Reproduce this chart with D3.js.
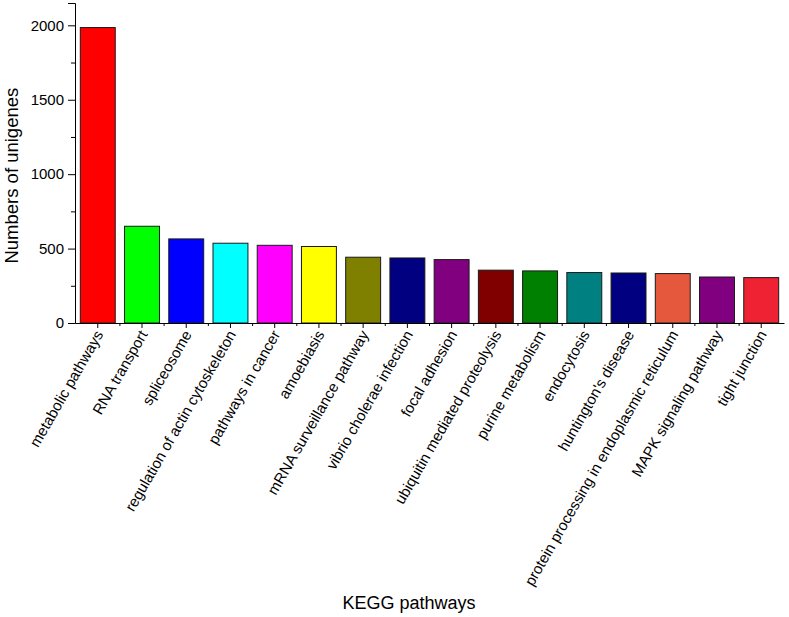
<!DOCTYPE html>
<html>
<head>
<meta charset="utf-8">
<script src="https://cdn.jsdelivr.net/npm/d3@7"></script>
<style>
  html, body { margin: 0; padding: 0; background: #fff; overflow: hidden; }
  svg { display: block; }
  text { font-family: "Liberation Sans", Arial, sans-serif; fill: #000; }
</style>
</head>
<body>
<div id="svg-container"></div>
<script>
const categories = [
  "metabolic pathways", "RNA transport", "spliceosome", "regulation of actin cytoskeleton",
  "pathways in cancer", "amoebiasis", "mRNA surveillance pathway", "vibrio cholerae infection",
  "focal adhesion", "ubiquitin mediated proteolysis", "purine metabolism", "endocytosis",
  "huntington's disease", "protein processing in endoplasmic reticulum",
  "MAPK signaling pathway", "tight junction"
]
const values = [1985, 650, 565, 536, 522, 514, 442, 437, 426, 355, 350, 339, 336, 332, 309, 305]
const colors = [
  "#ff0000", "#00ff00", "#0000ff", "#00ffff", "#ff00ff", "#ffff00", "#808000", "#000080",
  "#800080", "#800000", "#008000", "#008080", "#000080", "#e5583d", "#800080", "#ee2233"
]
const yTicks = [0, 500, 1000, 1500, 2000]
const yMinorTicks = [250, 750, 1250, 1750]

const width = 789
const height = 617
const margin = { top: 3, right: 5, bottom: 294, left: 75 }
const innerWidth = width - margin.left - margin.right
const innerHeight = height - margin.top - margin.bottom

const svg = d3.select('#svg-container')
  .append('svg').attr('width', width).attr('height', height)

const g = svg.append('g')
  .attr('transform', `translate(${margin.left}, ${margin.top})`)

//schalen
const yScale = d3.scaleLinear()
  .domain([0, 2150])
  .range([innerHeight, 0])
const xScale = d3.scaleBand()
  .domain(categories)
  .range([0, innerWidth])
  .paddingInner(0.21)
  .paddingOuter(0.12)

//balken
g.selectAll('rect')
  .data(values)
  .enter().append('rect')
  .attr('x', (d, i) => xScale(categories[i]))
  .attr('y', d => yScale(d))
  .attr('width', xScale.bandwidth())
  .attr('height', d => innerHeight - yScale(d))
  .attr('fill', (d, i) => colors[i])
  .attr('stroke', '#1a1a1a')
  .attr('stroke-width', 1)

//y as
const yAxisG = g.append('g')
  .call(d3.axisLeft(yScale).tickValues(yTicks).tickFormat(d3.format('d')).tickSize(7).tickPadding(4))
yAxisG.selectAll('text').style('font-size', '15px')
yAxisG.append('g')
  .call(d3.axisLeft(yScale).tickValues(yMinorTicks).tickSize(4).tickFormat(''))
  .select('.domain').remove()

//x as, labels los toegevoegd in een gedraaide groep
const xAxisG = g.append('g')
  .attr('transform', `translate(0, ${innerHeight})`)
  .call(d3.axisBottom(xScale).tickSize(5).tickSizeOuter(0).tickFormat(''))

xAxisG.selectAll('.label')
  .data(categories)
  .enter().append('g')
  .attr('class', 'label')
  .attr('transform', d => `translate(${xScale(d) + xScale.bandwidth() / 2 + 3}, 6) rotate(-60)`)
  .append('text')
  .style('font-size', '15px')
  .attr('text-anchor', 'end')
  .attr('dy', '0.35em')
  .attr('dx', '-0.2em')
  .text(d => d)

//minor ticks tussen de categorieen
const step = xScale.step()
const boundaries = categories.slice(1).map(c => xScale(c) - step * xScale.paddingInner() / 2)
xAxisG.selectAll('.minor')
  .data(boundaries)
  .enter().append('line')
  .attr('class', 'minor')
  .attr('x1', d => d).attr('x2', d => d)
  .attr('y1', 0).attr('y2', 3)
  .attr('stroke', '#000')

g.selectAll('.domain').attr('stroke', '#000')

//as labels
svg.append('g')
  .attr('transform', `translate(18, ${margin.top + yScale(990)}) rotate(-90)`)
  .append('text')
  .attr('text-anchor', 'middle')
  .style('font-size', '18.5px')
  .text('Numbers of unigenes')

svg.append('text')
  .attr('x', 409)
  .attr('y', 609)
  .attr('text-anchor', 'middle')
  .style('font-size', '18px')
  .text('KEGG pathways')
</script>
</body>
</html>
